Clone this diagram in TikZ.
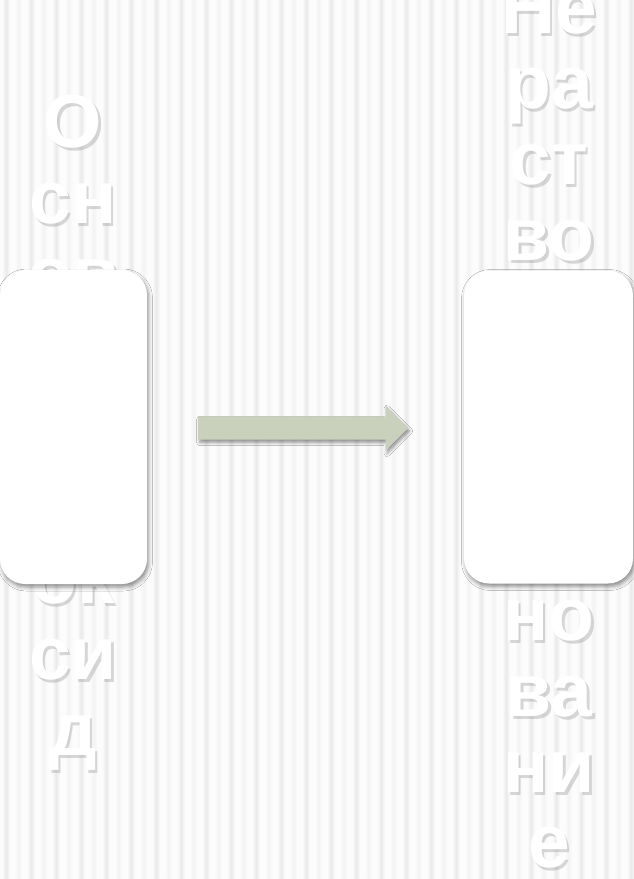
\documentclass[tikz,border=0pt]{standalone}
\usepackage{fontspec}
\setmainfont{Liberation Sans}
\usetikzlibrary{positioning,shapes.arrows,shadows.blur}
\definecolor{stripe}{HTML}{EAEAEA}
\definecolor{stripelight}{HTML}{F3F3F3}
\definecolor{paper}{HTML}{FCFCFC}
\definecolor{arrowgreen}{HTML}{C9D1BD}

\begin{document}
\begin{tikzpicture}[x=1pt,y=-1pt,
  word/.style={anchor=base,inner sep=0pt,text=white,font=\fontsize{75}{76}\selectfont\bfseries},
  wordshadow/.style={word,text=black!50,opacity=.3},
  card/.style={fill=white,rounded corners=25pt,inner sep=0pt,
    blur shadow={shadow xshift=1.5pt,shadow yshift=-3pt,shadow blur radius=4pt,shadow opacity=45}}]
\useasboundingbox (0,0) rectangle (634,879);
\fill[paper] (0,0) rectangle (634,879);
\foreach \i in {0,...,50}
  \shade[left color=paper,right color=paper,middle color=stripe] (2+25*\i,0) rectangle ++(8,879);
\foreach \i in {0,...,50}
  \shade[left color=paper,right color=paper,middle color=stripelight] (14.5+25*\i,0) rectangle ++(8,879);

% left word
\foreach \t/\j in {О/0,сн/1,ов/2,ок/6,си/7,д/8}{
  \node (ls\j) [wordshadow] at (75.5,150+76*\j) {\t};
  \node (lt\j) [word] at (73,147+76*\j) {\t};
}
% right word
\foreach \t/\j in {Не/0,ра/1,ст/2,во/3,но/8,ва/9,ни/10,е/11}{
  \node (rs\j) [wordshadow] at (551.5,36+75.9*\j) {\t};
  \node (rt\j) [word] at (549,33+75.9*\j) {\t};
}

\node (a) [card,minimum width=147pt,minimum height=314pt] at (73.5,427) {};
\node (b) [card,minimum width=169pt,minimum height=313pt] at (548.5,427) {};

\node (arr) [single arrow,fill=arrowgreen,minimum height=210pt,inner xsep=0pt,inner ysep=11.5pt,
  text height=0pt,text depth=0pt,single arrow head extend=11pt,anchor=tail,
  blur shadow={shadow xshift=1.5pt,shadow yshift=-3pt,shadow blur radius=3pt,shadow opacity=40}]
  at (198,428) {};
\end{tikzpicture}
\end{document}
